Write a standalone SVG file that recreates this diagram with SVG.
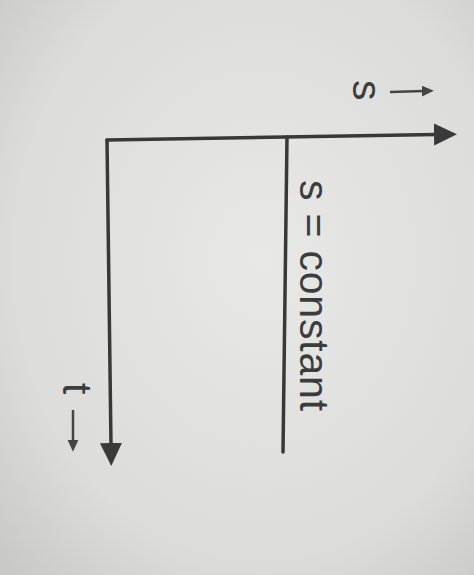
<svg xmlns="http://www.w3.org/2000/svg" width="474" height="575" viewBox="0 0 474 575">
<defs>
<radialGradient id="bg" cx="0.55" cy="0.45" r="0.75">
<stop offset="0" stop-color="#e8e8e6"/>
<stop offset="0.7" stop-color="#dcdcda"/>
<stop offset="1" stop-color="#c9c9c7"/>
</radialGradient>
<marker id="big" markerWidth="24" markerHeight="24" refX="2" refY="11" orient="auto" markerUnits="userSpaceOnUse" viewBox="0 0 24 22">
<path d="M0,0 L23,11 L0,22 Z" fill="#3a3a3a"/>
</marker>
<marker id="small" markerWidth="12" markerHeight="12" refX="2" refY="5" orient="auto" markerUnits="userSpaceOnUse" viewBox="0 0 11 10">
<path d="M0,0 L11,5 L0,10 Z" fill="#444"/>
</marker>
<style>
.ax{stroke:#383838;stroke-width:3.5;fill:none;stroke-linecap:round}
.sm{stroke:#444;stroke-width:2.5;fill:none}
.lbl{font-family:"Liberation Sans",Arial,sans-serif;font-size:41px;fill:#3c3c3c}
</style>
</defs>
<rect width="474" height="575" fill="url(#bg)"/>
<g id="connectors">
<path class="ax" d="M107,140 L111,445" marker-end="url(#big)"/>
<path class="ax" d="M287,137 L283,452"/>
<path class="ax" d="M107,140 L436,134.5" marker-end="url(#big)"/>
<path class="sm" d="M390,92 L424,91" marker-end="url(#small)"/>
<path class="sm" d="M73,410 L73,442" marker-end="url(#small)"/>
</g>
<g id="labels">
<text class="lbl" transform="translate(353,80) rotate(90)">s</text>
<text class="lbl" transform="translate(300,180) rotate(90)" letter-spacing="0.8">s = constant</text>
<text class="lbl" transform="translate(63,383) rotate(90)">t</text>
</g>
</svg>
